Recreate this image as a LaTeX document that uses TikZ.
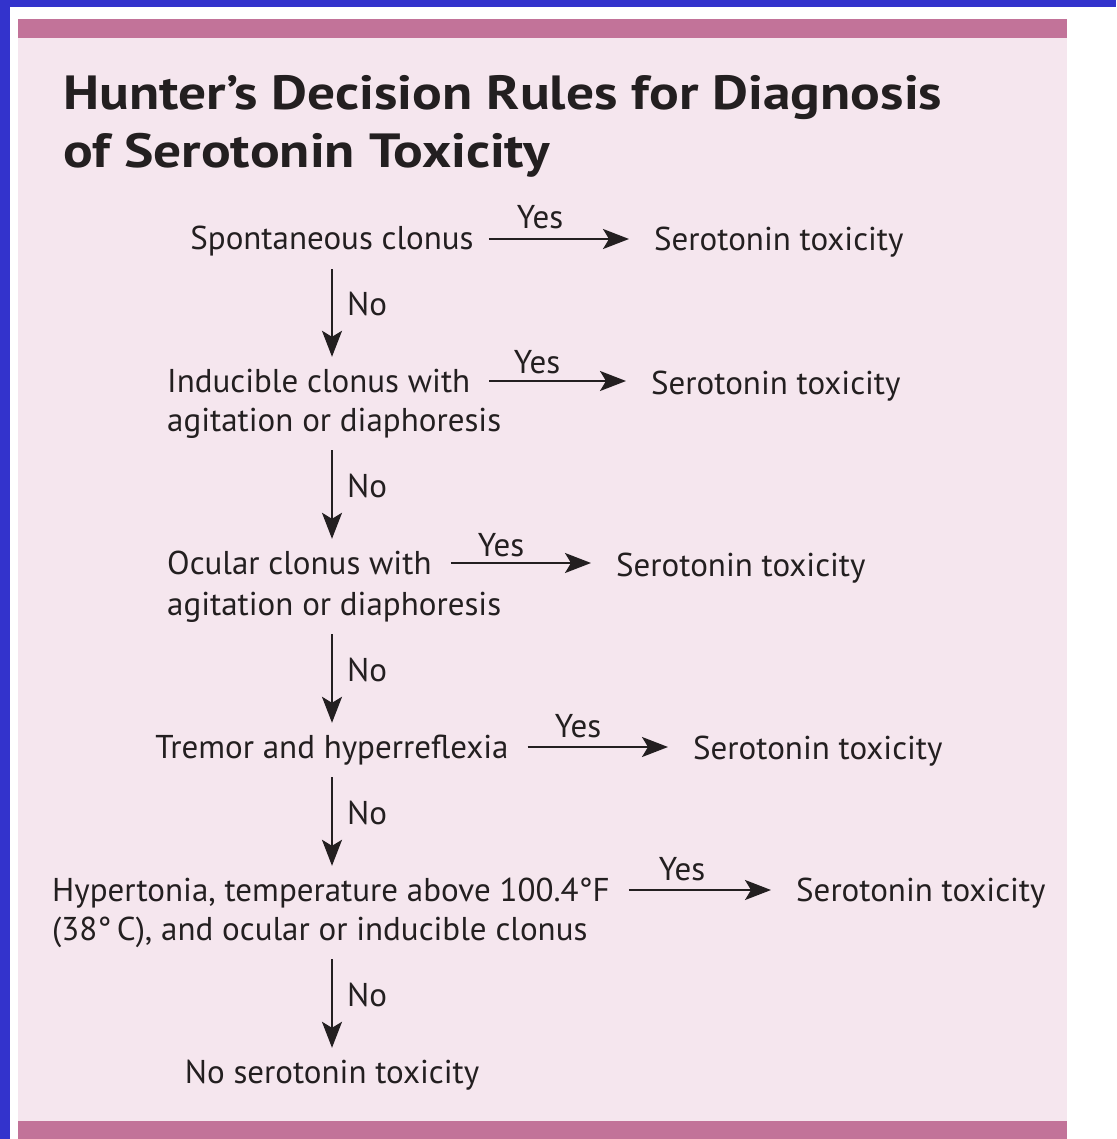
\documentclass[tikz,border=0pt]{standalone}
\usepackage{fontspec}
\setmainfont{PT Sans}
\newfontfamily\titlefont[FakeStretch=1.155]{PT Sans}
\usetikzlibrary{arrows.meta}
\definecolor{bluebd}{RGB}{51,51,204}
\definecolor{barpink}{RGB}{194,115,153}
\definecolor{bgpink}{RGB}{245,230,238}
\definecolor{ink}{RGB}{35,31,32}
\begin{document}
\begin{tikzpicture}[x=1pt,y=-1pt,
  txt/.style={inner sep=0pt, text=ink, font=\fontsize{33}{39}\selectfont, text height=27pt, text depth=5pt},
  ttl/.style={inner sep=0pt, text=ink, font=\titlefont\fontsize{48}{58}\bfseries\selectfont},
  arr/.style={draw=ink, line width=2pt, -{Stealth[length=26pt,width=20pt,inset=6pt]}},
  harr/.style={arr, shorten <=19pt, shorten >=25pt},
  varr/.style={arr, shorten <=14pt, shorten >=8pt}
]
% background and frame
\useasboundingbox (0,0) rectangle (1116,1139);
\fill[white] (0,0) rectangle (1116,1139);
\fill[bluebd] (0,0) rectangle (1116,7);
\fill[bluebd] (0,0) rectangle (9.5,1139);
\fill[bgpink] (18,19) rectangle (1067,1139);
\fill[barpink] (18,19) rectangle (1067,38);
\fill[barpink] (18,1121) rectangle (1067,1139);

% title
\node[ttl, anchor=base west] (t1) at (63,110) {Hunter’s Decision Rules for Diagnosis};
\node[ttl, anchor=base west] (t2) at (63,168) {of Serotonin Toxicity};

\coordinate (spine) at (332,0);

% questions
\node[txt, anchor=base] (q1) at (332,250) {Spontaneous clonus};
\node[txt, anchor=base west] (q2a) at (167,392) {Inducible clonus with};
\node[txt, anchor=base west] (q2b) at (167,431) {agitation or diaphoresis};
\node[txt, anchor=base west] (q3a) at (167,574) {Ocular clonus with};
\node[txt, anchor=base west] (q3b) at (167,615) {agitation or diaphoresis};
\node[txt, anchor=base] (q4) at (332,758) {Tremor and hyperreflexia};
\node[txt, anchor=base west] (q5a) at (52,901) {Hypertonia, temperature above 100.4°F};
\node[txt, anchor=base west] (q5b) at (52,940) {(38°\,C), and ocular or inducible clonus};
\node[txt, anchor=base] (nt) at (332,1083) {No serotonin toxicity};

% results
\node[txt, anchor=base west] (r1) at (654,251) {Serotonin toxicity};
\node[txt, anchor=base west] (r2) at (651,394) {Serotonin toxicity};
\node[txt, anchor=base west] (r3) at (616,576) {Serotonin toxicity};
\node[txt, anchor=base west] (r4) at (693,759) {Serotonin toxicity};
\node[txt, anchor=base west] (r5) at (796,901) {Serotonin toxicity};

% yes arrows
\draw[harr, shorten <=15pt] (q1.east) -- (q1.east -| r1.west);
\draw[harr] (q2a.east) -- (q2a.east -| r2.west);
\draw[harr] (q3a.east) -- (q3a.east -| r3.west);
\draw[harr] (q4.east) -- (q4.east -| r4.west);
\draw[harr] (q5a.east) -- (q5a.east -| r5.west);

\node[txt, anchor=base] (y1) at (540,229) {Yes};
\node[txt, anchor=base] (y2) at (537,373) {Yes};
\node[txt, anchor=base] (y3) at (501,556) {Yes};
\node[txt, anchor=base] (y4) at (578,737) {Yes};
\node[txt, anchor=base] (y5) at (682,880) {Yes};

% no arrows
\draw[varr] (spine |- q1.south) -- (spine |- q2a.north);
\draw[varr] (spine |- q2b.south) -- (spine |- q3a.north);
\draw[varr] (spine |- q3b.south) -- (spine |- q4.north);
\draw[varr] (spine |- q4.south) -- (spine |- q5a.north);
\draw[varr] (spine |- q5b.south) -- (spine |- nt.north);

\node[txt, anchor=base west] (n1) at (347,315) {No};
\node[txt, anchor=base west] (n2) at (347,497) {No};
\node[txt, anchor=base west] (n3) at (347,681) {No};
\node[txt, anchor=base west] (n4) at (347,824) {No};
\node[txt, anchor=base west] (n5) at (347,1006) {No};
\end{tikzpicture}
\end{document}
